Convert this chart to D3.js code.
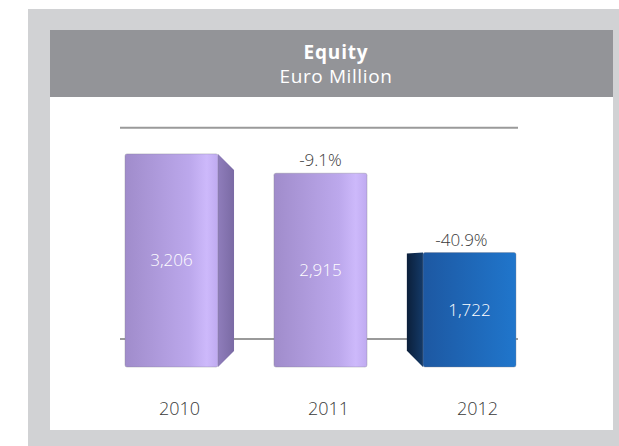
<!doctype html>
<html>
  <head>
    <script src="https://cdn.jsdelivr.net/npm/d3@7"></script>
    <style>
      body { margin:0; background:#ffffff; }
      text { font-family:"Open Sans", "DejaVu Sans", sans-serif; }
    </style>
  </head>
  <body>
    <script>
      // data
      var years = ["2010", "2011", "2012"];
      var equity = [3206, 2915, 1722];
      var change = [null, "-9.1%", "-40.9%"];
      var refLines = [420, 3600];

      var w_svg = 619;
      var h_svg = 446;

      var svg = d3.select("body")
                  .append("svg")
                  .attr("width", w_svg)
                  .attr("height", h_svg);

      var defs = svg.append("defs");

      function grad(id, stops) {
        var g = defs.append("linearGradient")
                    .attr("id", id)
                    .attr("x1", "0%").attr("x2", "100%")
                    .attr("y1", "0%").attr("y2", "0%");
        stops.forEach(function(s){
          g.append("stop").attr("offset", s[0]).attr("stop-color", s[1]);
        });
      }
      grad("purpleFront", [["0%", "#a08ccb"], ["70%", "#bca8ec"], ["88%", "#cdb9fb"], ["100%", "#bfaaf0"]]);
      grad("blueFront", [["0%", "#1d58a2"], ["100%", "#2076cc"]]);
      grad("purpleSide", [["0%", "#8f7dbb"], ["100%", "#7a6aa4"]]);
      grad("blueSide", [["0%", "#0b1f3a"], ["100%", "#143a68"]]);

      // frame
      svg.append("rect")
         .attr("x", 28).attr("y", 9)
         .attr("width", w_svg - 28).attr("height", h_svg - 9)
         .attr("fill", "#d1d2d4");
      svg.append("rect")
         .attr("x", 50).attr("y", 30)
         .attr("width", 563).attr("height", 400)
         .attr("fill", "#ffffff");
      svg.append("rect")
         .attr("x", 50).attr("y", 30)
         .attr("width", 563).attr("height", 67)
         .attr("fill", "#939498");

      svg.append("text")
         .attr("x", 336).attr("y", 59)
         .attr("text-anchor", "middle")
         .attr("font-size", 19)
         .attr("font-weight", "bold")
         .attr("letter-spacing", 0.8)
         .attr("fill", "#ffffff")
         .text("Equity");
      svg.append("text")
         .attr("x", 336).attr("y", 83)
         .attr("text-anchor", "middle")
         .attr("font-size", 19)
         .attr("letter-spacing", 0.6)
         .attr("fill", "#ffffff")
         .text("Euro Million");

      // scales
      var x = d3.scaleBand()
                .domain(years)
                .range([97, 544])
                .paddingInner(0.376)
                .paddingOuter(0.188);

      var y = d3.scaleLinear()
                .domain([0, 3600])
                .range([367, 127.7]);

      var bw = x.bandwidth();
      var vanish = 320;   // perspective centre for the side faces
      var depth = 0.108;

      // reference lines
      svg.selectAll("line.ref")
         .data(refLines)
         .enter()
         .append("line")
         .attr("class", "ref")
         .attr("x1", 120).attr("x2", 518)
         .attr("y1", function(d){ return y(d); })
         .attr("y2", function(d){ return y(d); })
         .attr("stroke", "#9a9a9a")
         .attr("stroke-width", 2);

      var data = years.map(function(d, i){
        return {year:d, value:equity[i], change:change[i], last:i == years.length - 1};
      });

      // bars: side face + front face
      var bars = svg.selectAll("g.bar")
                    .data(data)
                    .enter()
                    .append("g")
                    .attr("class", "bar");

      function sideOf(d) {
        var c = x(d.year) + bw / 2;
        return (vanish - c) * depth;   // >0 -> right side visible
      }

      bars.append("path")
          .attr("d", function(d){
            var s = sideOf(d);
            var top = y(d.value), bot = y(0);
            var xf = s >= 0 ? x(d.year) + bw : x(d.year);
            var xs = xf + s;
            var a = Math.abs(s);
            var topCut = s >= 0 ? a : 1;
            return "M" + xf + "," + top +
                   "L" + xs + "," + (top + topCut) +
                   "L" + xs + "," + (bot - a) +
                   "L" + xf + "," + bot + "Z";
          })
          .attr("fill", function(d){ return d.last ? "url(#blueSide)" : "url(#purpleSide)"; });

      bars.append("rect")
          .attr("x", function(d){ return x(d.year); })
          .attr("y", function(d){ return y(d.value); })
          .attr("width", bw)
          .attr("height", function(d){ return y(0) - y(d.value); })
          .attr("rx", 2)
          .attr("fill", function(d){ return d.last ? "url(#blueFront)" : "url(#purpleFront)"; })
          .attr("stroke", "#7d7d8a")
          .attr("stroke-opacity", 0.35)
          .attr("stroke-width", 1);

      // value labels inside bars
      bars.append("text")
          .attr("x", function(d){ return x(d.year) + bw / 2; })
          .attr("y", function(d){ return (y(d.value) + y(0)) / 2 + 6; })
          .attr("text-anchor", "middle")
          .attr("font-size", 17)
          .attr("font-weight", 300)
          .attr("fill", "#ffffff")
          .text(function(d){ return d3.format(",")(d.value); });

      // change labels above bars
      bars.filter(function(d){ return d.change; })
          .append("text")
          .attr("x", function(d){ return x(d.year) + bw / 2 - Math.max(0, -sideOf(d)) / 2; })
          .attr("y", function(d){ return y(d.value) - 7; })
          .attr("text-anchor", "middle")
          .attr("font-size", 17)
          .attr("font-weight", 300)
          .attr("fill", "#3a3a3a")
          .text(function(d){ return d.change; });

      // category labels
      svg.selectAll("text.year")
         .data(years)
         .enter()
         .append("text")
         .attr("class", "year")
         .attr("x", function(d){ return x(d) + bw / 2 + 8; })
         .attr("y", 415)
         .attr("text-anchor", "middle")
         .attr("font-size", 18)
         .attr("font-weight", 300)
         .attr("fill", "#3a3a3a")
         .text(function(d){ return d; });
    </script>
  </body>
</html>
